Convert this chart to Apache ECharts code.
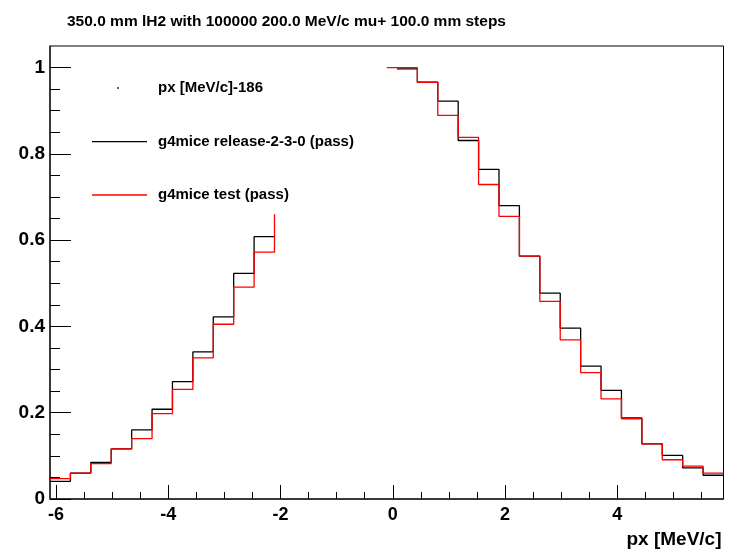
<!DOCTYPE html>
<html>
<head>
<meta charset="utf-8">
<script src="https://cdn.jsdelivr.net/npm/echarts@6/dist/echarts.min.js"></script>
<style>
html,body{margin:0;padding:0;background:#fff;}
#c{width:736px;height:549px;}
</style>
</head>
<body>
<div id="c"></div>
<script>
// ---- data ----
const titleText = '350.0 mm lH2 with 100000 200.0 MeV/c mu+ 100.0 mm steps';
const xAxisName = 'px [MeV/c]';
const legendNames = ['px [MeV/c]-186', 'g4mice release-2-3-0 (pass)', 'g4mice test (pass)'];
const binLow = -6.107;
const binHigh = 5.893;
const nBins = 33;
// bins 0..10 (left side)
const blackLeft = [0.041, 0.060, 0.085, 0.116, 0.160, 0.208, 0.272, 0.341, 0.422, 0.523, 0.608];
const redLeft   = [0.047, 0.060, 0.082, 0.116, 0.140, 0.198, 0.254, 0.327, 0.405, 0.491, 0.572];
// bins 11..16 are off scale (above the frame)
const offScaleBins = 6;
// bins 17..32 (right side)
const blackRight = [0.997, 0.966, 0.922, 0.831, 0.764, 0.680, 0.563, 0.477, 0.396, 0.308, 0.252, 0.188, 0.128, 0.101, 0.072, 0.055];
const redRight   = [1.000, 0.966, 0.889, 0.838, 0.729, 0.655, 0.563, 0.458, 0.369, 0.293, 0.232, 0.186, 0.128, 0.091, 0.076, 0.060];
// clipped-edge pieces of the red histogram
const redTailTop = 0.66;
const redHeadX = -0.107;
const xMajor = [-6, -4, -2, 0, 2, 4];
const xMinor = [-5.5, -5, -4.5, -3.5, -3, -2.5, -1.5, -1, -0.5, 0.5, 1, 1.5, 2.5, 3, 3.5, 4.5, 5, 5.5];
const yMajor = [0, 0.2, 0.4, 0.6, 0.8, 1];
const yMinor = [0.05, 0.1, 0.15, 0.25, 0.3, 0.35, 0.45, 0.5, 0.55, 0.65, 0.7, 0.75, 0.85, 0.9, 0.95];
const yMax = 1.05;

// ---- build step data ----
const binW = (binHigh - binLow) / nBins;
function buildSteps(left, right, tail, headX, headY) {
  const vals = left.concat(new Array(offScaleBins).fill(null), right);
  const pts = [];
  const firstRight = left.length + offScaleBins;
  for (let i = 0; i < vals.length; i++) {
    const lo = binLow + i * binW, hi = lo + binW;
    if (vals[i] === null) {
      if (i === left.length && tail != null) pts.push([lo, tail]);
      if (pts.length && pts[pts.length - 1] !== null) pts.push(null);
      continue;
    }
    if (i === firstRight && headX != null) pts.push([headX, headY]);
    pts.push([lo, vals[i]]);
    pts.push([hi, vals[i]]);
  }
  return pts;
}
const blackData = buildSteps(blackLeft, blackRight, null, null, null);
const redData = buildSteps(redLeft, redRight, redTailTop, redHeadX, redRight[0]);

const FONT = 'Liberation Sans, Arial, Helvetica, sans-serif';
const chart = echarts.init(document.getElementById('c'), null, {renderer: 'canvas'});
chart.setOption({
  animation: false,
  backgroundColor: '#fff',
  title: {
    text: titleText, left: 62, top: 9,
    textStyle: {fontFamily: FONT, fontWeight: 'bold', fontSize: 15.5, color: '#000'}
  },
  grid: {left: 50, right: 12.5, top: 46, bottom: 46.5, show: true, borderColor: '#000', borderWidth: 1, backgroundColor: 'transparent'},
  legend: [
    {
      data: [{name: legendNames[0], icon: 'circle'}],
      left: 112, top: 75, itemWidth: 2, itemHeight: 2, selectedMode: false,
      textStyle: {fontFamily: FONT, fontWeight: 'bold', fontSize: 15, color: '#000', lineHeight: 16, padding: [0, 0, 0, 34]}
    },
    {
      data: [
        {name: legendNames[1], icon: 'rect', itemStyle: {color: '#000'}},
        {name: legendNames[2], icon: 'rect', itemStyle: {color: '#ff0000'}}
      ],
      orient: 'vertical', left: 87, top: 128.7, itemWidth: 55, itemHeight: 1.3, itemGap: 37.3, selectedMode: false,
      textStyle: {fontFamily: FONT, fontWeight: 'bold', fontSize: 15, color: '#000', lineHeight: 16, padding: [0, 0, 0, 6]}
    }
  ],
  xAxis: [
    {
      type: 'value', min: binLow, max: binHigh, position: 'bottom',
      name: xAxisName, nameLocation: 'end', nameGap: -2,
      nameTextStyle: {fontFamily: FONT, fontWeight: 'bold', fontSize: 19, color: '#000', align: 'right', verticalAlign: 'top', padding: [31, 0, 0, 0]},
      axisLine: {show: true, onZero: false, lineStyle: {color: '#222', width: 1.5}},
      axisTick: {show: true, inside: true, length: 14, customValues: xMajor, lineStyle: {color: '#000', width: 1}},
      axisLabel: {show: true, customValues: xMajor, margin: 7, fontFamily: FONT, fontWeight: 'bold', fontSize: 18, color: '#000'},
      splitLine: {show: false}
    },
    {
      type: 'value', min: binLow, max: binHigh, position: 'bottom', offset: 0,
      axisLine: {show: false, onZero: false},
      axisTick: {show: true, inside: true, length: 7, customValues: xMinor, lineStyle: {color: '#000', width: 1}},
      axisLabel: {show: false},
      splitLine: {show: false}
    }
  ],
  yAxis: [
    {
      type: 'value', min: 0, max: yMax, position: 'left',
      axisLine: {show: true, onZero: false, lineStyle: {color: '#222', width: 1.5}},
      axisTick: {show: true, inside: true, length: 21, customValues: yMajor, lineStyle: {color: '#000', width: 1}},
      axisLabel: {show: true, customValues: yMajor, margin: 5, fontFamily: FONT, fontWeight: 'bold', fontSize: 19, color: '#000'},
      splitLine: {show: false}
    },
    {
      type: 'value', min: 0, max: yMax, position: 'left', offset: 0,
      axisLine: {show: false, onZero: false},
      axisTick: {show: true, inside: true, length: 10, customValues: yMinor, lineStyle: {color: '#000', width: 1}},
      axisLabel: {show: false},
      splitLine: {show: false}
    }
  ],
  series: [
    {
      name: legendNames[0], type: 'scatter', data: [], symbol: 'circle', symbolSize: 2,
      itemStyle: {color: '#000'}
    },
    {
      name: legendNames[1], type: 'line', data: blackData, symbol: 'none', clip: true,
      connectNulls: false, lineStyle: {color: '#000', width: 1.3}, itemStyle: {color: '#000'}, z: 2
    },
    {
      name: legendNames[2], type: 'line', data: redData, symbol: 'none', clip: true,
      connectNulls: false, lineStyle: {color: '#ff0000', width: 1.3}, itemStyle: {color: '#ff0000'}, z: 3
    }
  ]
});
</script>
</body>
</html>
